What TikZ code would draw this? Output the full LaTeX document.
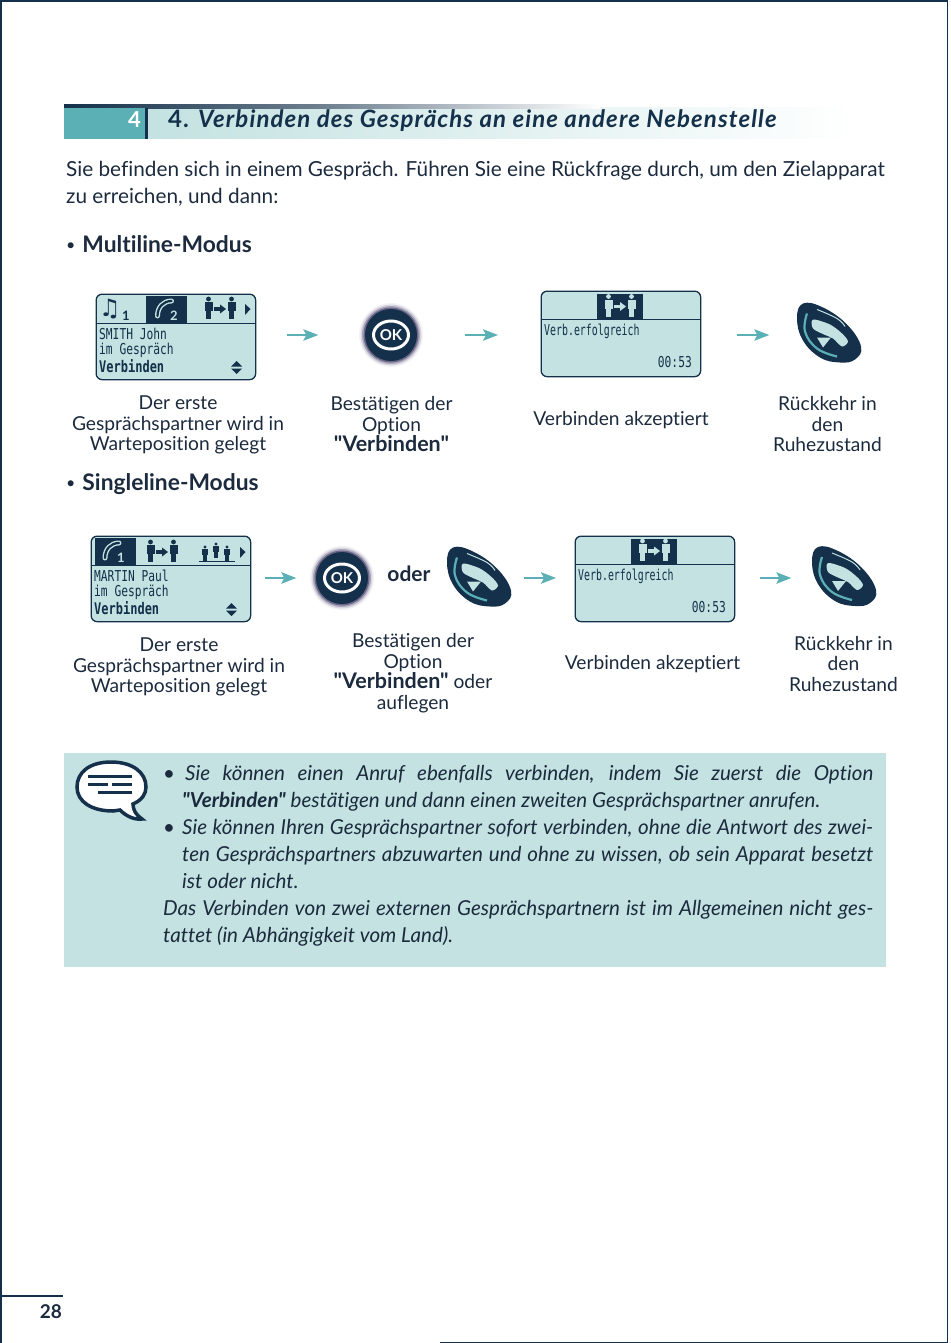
\documentclass[tikz,border=0pt]{standalone}
\usepackage{fontspec}
\usepackage{xcolor}
\usetikzlibrary{arrows.meta,positioning}
\setmainfont[Ligatures={TeXOff,NoCommon}]{Lato}
\newfontfamily\titlefont[Ligatures={TeXOff,NoCommon},LetterSpace=4.6]{Lato}
\newfontfamily\lcdfont[FakeStretch=0.75]{DejaVu Sans Mono}
\newfontfamily\lcdnarrow[FakeStretch=0.66]{DejaVu Sans Mono}
\newfontfamily\symbolfont{DejaVu Sans}
\definecolor{PageInk}{HTML}{14304A}
\definecolor{PageText}{HTML}{1B2A3D}
\definecolor{PageTeal}{HTML}{5BB0B5}
\definecolor{PagePale}{HTML}{C3E2E1}
\definecolor{PageWhite}{HTML}{FFFFFF}
\definecolor{PageGlow}{HTML}{3A3260}
\newcommand{\softkeyname}{{\bfseries\fontsize{21.5}{20.5}\selectfont"Verbinden"}}
\newcommand{\smalldot}{\raisebox{2pt}{\fontsize{16}{16}\selectfont\mdseries •}}
\tikzset{
  screenbox/.style={draw=PageInk,line width=1.3pt,fill=PagePale,rounded corners=6pt,inner sep=0pt,anchor=north west,minimum width=159.5pt,minimum height=85.5pt},
  lcdtext/.style={anchor=west,inner sep=0pt,text=PageInk,font=\lcdfont\fontsize{15}{15}\selectfont},
  lcdbold/.style={lcdtext,font=\lcdfont\bfseries\fontsize{16}{16}\selectfont},
  lcdlong/.style={lcdtext,font=\lcdnarrow\fontsize{15}{15}\selectfont},
  tabnumber/.style={anchor=west,inner sep=0pt,font=\bfseries\fontsize{13}{13}\selectfont},
  caption/.style={align=center,text=PageText,font=\fontsize{19.2}{20.5}\selectfont,inner sep=0pt},
  stepheading/.style={anchor=base west,inner sep=0pt,text=PageText,font=\bfseries\fontsize{22.8}{22.8}\selectfont},
  bodyline/.style={anchor=base west,inner sep=0pt,text=PageText,font=\fontsize{20.75}{21}\selectfont},
  flowarrow/.style={draw=PageTeal,line width=1.4pt,-{Stealth[length=15pt,width=11.5pt,inset=3pt]}},
  noteline/.style={anchor=base west,inner sep=0pt,text=PageText,font=\itshape\fontsize{20.6}{21}\selectfont},
  iconspot/.style={minimum size=1pt,inner sep=0pt},
  % the handset key
  hangkey/.pic={
    \fill[PageInk] plot[smooth cycle,tension=0.7] coordinates {(-27,-29) (-7,-25) (17,-8) (31,14) (25,27) (10,30) (-10,25) (-27,8) (-33,-14)};
    \draw[PageTeal,line width=2.2pt] plot[smooth,tension=0.7] coordinates {(-23,-19) (-25,-1) (-13,16) (7,24)};
    \draw[PagePale,line width=1pt] plot[smooth,tension=0.7] coordinates {(-13,-23) (7,-14) (15,-6)};
    \fill[PagePale] plot[smooth cycle,tension=0.5] coordinates {(-17,-13) (0,-8) (12,1) (18,9) (12,14) (3,6) (-6,2) (-17,-4)};
    \fill[PagePale] (-13,5) -- (1,5) -- (-7,15) -- cycle;
  },
  % the round ok key
  okkey/.pic={
    \foreach \glowr/\glowo in {32/.06,30.5/.15,29/.3,27.5/.55}{
      \fill[PageGlow,opacity=\glowo] (0,0) circle (\glowr);
    }
    \fill[PageInk] (0,0) circle (26);
    \draw[PageWhite,line width=3pt] (0,0) ellipse (17.5 and 14);
    \node[text=PageWhite,inner sep=0pt,font=\bfseries\fontsize{15}{15}\selectfont] at (0,0) {OK};
  },
  % one standing person
  person/.pic={
    \fill[pic actions] (0,-10) circle (2.4);
    \fill[pic actions] (-4,-7) rectangle (4,2);
    \fill[pic actions] (-2.7,2) rectangle (2.7,10);
  },
  % two persons with an arrow
  transfericon/.pic={
    \path[pic actions] (-11.5,0) pic {person};
    \path[pic actions] (11.5,0) pic {person};
    \fill[pic actions] (-6,-1.6) rectangle (0,1.6);
    \fill[pic actions] (0,-4.5) -- (6,0) -- (0,4.5) -- cycle;
  },
  % the phone in a tab
  phoneicon/.pic={
    \draw[PagePale,line width=5pt,line cap=round] (-7,7) .. controls (-7,-2) and (-1,-8) .. (7,-8);
    \draw[PageInk,line width=2.2pt,line cap=round] (-7,7) .. controls (-7,-2) and (-1,-8) .. (7,-8);
  },
}
\begin{document}
\begin{tikzpicture}[x=1pt,y=-1pt]
\useasboundingbox (0,0) rectangle (950,1343);
\draw[PageInk,line width=1.6pt] (1,1343) -- (1,0.8) -- (947.5,0.8) -- (947.5,1343);
\draw[PageInk,line width=1.2pt] (1,1296) -- (63,1296);
\draw[PageInk,line width=1.2pt] (440,1342.4) -- (947.5,1342.4);
\node[anchor=east,inner sep=0pt,text=PageText,font=\bfseries\fontsize{19}{19}\selectfont] (pagenum) at (62,1312) {28};
% title band
\shade[left color=PagePale,right color=PageWhite] (146,108) rectangle (855,139);
\shade[left color=PageInk,right color=PageWhite,middle color=PageInk!60] (64,104.5) rectangle (600,108.5);
\fill[PageTeal] (64,108.5) rectangle (146,139);
\fill[PageInk] (144.5,108.5) rectangle (148,139);
\node[anchor=east,inner sep=0pt,text=PageWhite,font=\bfseries\fontsize{22}{22}\selectfont] (tabnum) at (141,120) {4};
\node[anchor=base west,inner sep=0pt,text=PageInk,font=\titlefont\bfseries\fontsize{24}{24}\selectfont] (title) at (168,127.5) {4. \textit{Verbinden des Gesprächs an eine andere Nebenstelle}};
\node[bodyline] (introa) at (66,177) {Sie befinden sich in einem Gespräch. Führen Sie eine Rückfrage durch, um den Zielapparat};
\node[bodyline] (introb) at (66,204) {zu erreichen, und dann:};
\node[stepheading] (multihead) at (66,252) {\smalldot\hspace{7pt}Multiline-Modus};
\node[stepheading] (singlehead) at (66,490) {\smalldot\hspace{7pt}Singleline-Modus};
% multiline row
\node[screenbox] (screenA) at (95.5,293.5) {};
\fill[PageInk] (146,296) rectangle (187,323);
\draw[PageInk,line width=1pt] (96,323) -- (255,323);
\node[lcdtext] (smith) at (99,334) {SMITH John};
\node[lcdtext] (callA) at (99,350) {im Gespräch};
\node[lcdbold] (softA) at (99,366) {Verbinden};
\node[anchor=center,inner sep=0pt,text=PageInk,font=\symbolfont\fontsize{24}{24}\selectfont] (noteA) at (110,309) {♫};
\node[tabnumber,text=PageInk] (noteNum) at (122,315.5) {1};
\path (164.5,309) pic {phoneicon};
\node[tabnumber,text=PagePale] (tabNum) at (170,315.5) {2};
\path (220,309) pic[fill=PageInk] {transfericon};
\fill[PageInk] (245,304) -- (250.5,309) -- (245,315) -- cycle;
\fill[PageInk] (231,366.5) -- (236.5,361) -- (242,366.5) -- cycle;
\fill[PageInk] (231,368.5) -- (236.5,374) -- (242,368.5) -- cycle;
\node[iconspot] (okA) at (391,335) {};
\path (391,335) pic {okkey};
\node[screenbox] (screenB) at (540.5,290.5) {};
\fill[PageInk] (597,294) rectangle (643,319);
\draw[PageInk,line width=1pt] (541,319.5) -- (700,319.5);
\path (620,306.5) pic[fill=PagePale] {transfericon};
\node[lcdlong] (doneA) at (544,331) {Verb.erfolgreich};
\node[lcdtext,anchor=east] (timeA) at (692,362) {00:53};
\node[iconspot] (hangA) at (830,335) {};
\path (830,332.5) pic {hangkey};
\draw[flowarrow,shorten <=30.5pt,shorten >=72pt] (screenA.east |- okA) -- (okA);
\draw[flowarrow,shorten <=73pt,shorten >=42.5pt] (okA) -- (okA -| screenB.west);
\draw[flowarrow,shorten <=35.5pt,shorten >=60pt] (screenB.east |- hangA) -- (hangA);
\node[caption] (capA) at (178,425) {Der erste\\Gesprächspartner wird in\\Warteposition gelegt};
\node[caption] (capB) at (391.5,424.5) {Bestätigen der\\Option\\\softkeyname};
\node[caption] (capC) at (621,420) {Verbinden akzeptiert};
\node[caption] (capD) at (827.5,424.5) {Rückkehr in\\den\\Ruhezustand};
% singleline row
\node[screenbox] (screenC) at (90.5,535.5) {};
\fill[PageInk] (95,538) rectangle (136,565);
\draw[PageInk,line width=1pt] (91,565.5) -- (250,565.5);
\path (112,551) pic {phoneicon};
\node[tabnumber,text=PagePale] (tabNumC) at (117,558) {1};
\path (162,552) pic[fill=PageInk] {transfericon};
\path (205,554) pic[fill=PageInk,scale=0.7] {person};
\path (216,551) pic[fill=PageInk,scale=0.7] {person};
\path (227,554) pic[fill=PageInk,scale=0.7] {person};
\draw[PageInk,line width=1pt] (199,561) -- (235,561);
\fill[PageInk] (240,547) -- (245.5,552) -- (240,558) -- cycle;
\node[lcdtext] (martin) at (94,576) {MARTIN Paul};
\node[lcdtext] (callC) at (94,592) {im Gespräch};
\node[lcdbold] (softC) at (94,608) {Verbinden};
\fill[PageInk] (226,608.5) -- (231.5,603) -- (237,608.5) -- cycle;
\fill[PageInk] (226,610.5) -- (231.5,616) -- (237,610.5) -- cycle;
\node[iconspot] (okC) at (342,578) {};
\path (342,578) pic {okkey};
\node[anchor=center,inner sep=0pt,text=PageText,font=\bfseries\fontsize{21}{21}\selectfont] (oder) at (409,574) {oder};
\node[iconspot] (hangC) at (480,578) {};
\path (480,576.5) pic {hangkey};
\node[screenbox] (screenD) at (574.5,535.5) {};
\fill[PageInk] (631,538.5) rectangle (677,564);
\draw[PageInk,line width=1pt] (575,564.5) -- (734,564.5);
\path (654,551) pic[fill=PagePale] {transfericon};
\node[lcdlong] (doneC) at (578,576) {Verb.erfolgreich};
\node[lcdtext,anchor=east] (timeC) at (726,607) {00:53};
\node[iconspot] (hangD) at (845,578) {};
\path (845,576) pic {hangkey};
\draw[flowarrow,shorten <=14pt,shorten >=45pt] (screenC.east |- okC) -- (okC);
\draw[flowarrow,shorten <=43pt,shorten >=18.5pt] (hangC) -- (hangC -| screenD.west);
\draw[flowarrow,shorten <=24.5pt,shorten >=53pt] (screenD.east |- hangD) -- (hangD);
\node[caption] (capE) at (179,667) {Der erste\\Gesprächspartner wird in\\Warteposition gelegt};
\node[caption] (capF) at (413,673) {Bestätigen der\\Option\\\softkeyname{} oder\\auflegen};
\node[caption] (capG) at (652.5,664) {Verbinden akzeptiert};
\node[caption] (capH) at (843.5,663.5) {Rückkehr in\\den\\Ruhezustand};
% note panel
\fill[PagePale] (64,753) rectangle (886,967);
\draw[PageInk,line width=3.5pt,fill=PageWhite] (111,762) .. controls (90,762) and (77,772) .. (77,787) .. controls (77,802) and (92,811) .. (113,811) -- (120,810) .. controls (126,816) and (134,820) .. (142,819) .. controls (136,815) and (133,810) .. (133,804) .. controls (142,800) and (146,794) .. (146,787) .. controls (146,772) and (132,762) .. (111,762) -- cycle;
\draw[PageInk,line width=3pt] (88,776) -- (132,776);
\draw[PageInk,line width=3pt] (88,784) -- (108,784) (112,784) -- (132,784);
\draw[PageInk,line width=3pt] (98,792) -- (132,792);
\node[noteline] (dotA) at (163,780.5) {•};
\node[noteline] (lineA) at (185,780.5) {\makebox[688pt][s]{Sie können einen Anruf ebenfalls verbinden, indem Sie zuerst die Option}};
\node[noteline] (lineB) at (182,807.5) {\textbf{"Verbinden"} bestätigen und dann einen zweiten Gesprächspartner anrufen.};
\node[noteline] (dotB) at (163,834.5) {•};
\node[noteline] (lineC) at (182,834.5) {\makebox[691pt][s]{Sie können Ihren Gesprächspartner sofort verbinden, ohne die Antwort des zwei-}};
\node[noteline] (lineD) at (182,861.5) {\makebox[691pt][s]{ten Gesprächspartners abzuwarten und ohne zu wissen, ob sein Apparat besetzt}};
\node[noteline] (lineE) at (182,888.5) {ist oder nicht.};
\node[noteline] (lineF) at (163,915.5) {\makebox[710pt][s]{Das Verbinden von zwei externen Gesprächspartnern ist im Allgemeinen nicht ges-}};
\node[noteline] (lineG) at (163,942.5) {tattet (in Abhängigkeit vom Land).};
\end{tikzpicture}
\end{document}
